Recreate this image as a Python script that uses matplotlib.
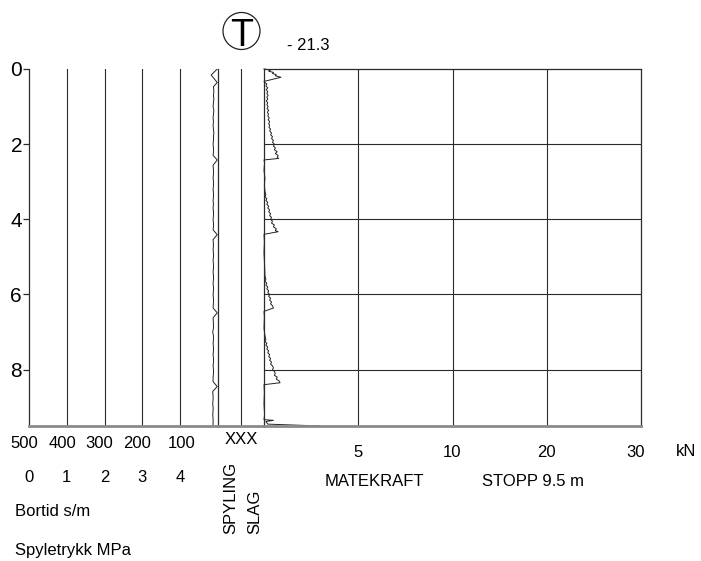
import numpy as np
import matplotlib
matplotlib.use('Agg')
import matplotlib.pyplot as plt
from matplotlib.patches import Ellipse
from matplotlib.transforms import ScaledTranslation

# ---------------- data ----------------
depth_ticks = [0, 2, 4, 6, 8]
depth_max = 9.5
bortid_ticks = [500, 400, 300, 200, 100]
spyletrykk_ticks = [0, 1, 2, 3, 4]
kn_ticks = [5, 10, 20, 30]
kn_breaks = [0, 5, 10, 20, 30]

# Bortid (s/m) vs depth (m)
bortid = [
    (0.00, 2), (0.16, 18), (0.36, 2), (0.47, 12), (0.60, 11), (0.70, 12), (0.80, 11),
    (0.90, 12), (1.00, 13), (1.10, 11), (1.20, 12), (1.30, 13), (1.40, 12), (1.50, 13),
    (1.60, 12), (1.70, 11), (1.80, 12), (1.90, 12), (2.00, 13), (2.10, 12), (2.20, 12),
    (2.30, 13), (2.42, 2), (2.56, 13), (2.70, 12), (2.80, 12), (2.90, 13), (3.00, 12),
    (3.10, 12), (3.20, 13), (3.30, 12), (3.40, 12), (3.50, 13), (3.60, 12), (3.70, 13),
    (3.80, 12), (3.90, 12), (4.00, 13), (4.10, 12), (4.20, 12), (4.28, 13), (4.41, 2),
    (4.54, 13), (4.70, 12), (4.80, 13), (4.90, 12), (5.00, 12), (5.10, 13), (5.20, 12),
    (5.30, 12), (5.40, 13), (5.50, 12), (5.60, 12), (5.70, 13), (5.80, 12), (5.90, 12),
    (6.00, 13), (6.10, 12), (6.20, 12), (6.36, 13), (6.49, 2), (6.62, 13), (6.80, 12),
    (6.90, 12), (7.00, 14), (7.10, 12), (7.20, 12), (7.30, 13), (7.40, 12), (7.50, 12),
    (7.60, 13), (7.70, 12), (7.80, 12), (7.90, 13), (8.00, 12), (8.10, 12), (8.20, 13),
    (8.32, 13), (8.45, 2), (8.58, 14), (8.70, 13), (8.80, 13), (8.90, 14), (9.00, 13),
    (9.10, 13), (9.20, 14), (9.30, 13), (9.40, 13), (9.50, 13),
]

# Matekraft (kN) vs depth (m)
matekraft = [
    (0.00, 0.00), (0.03, 0.35), (0.06, 0.25), (0.09, 0.50), (0.12, 0.45), (0.15, 0.65),
    (0.18, 0.60), (0.22, 0.90), (0.33, 0.00),
    (0.36, 0.05), (0.40, 0.15), (0.45, 0.10), (0.50, 0.20), (0.55, 0.12), (0.60, 0.20),
    (0.65, 0.15), (0.70, 0.22), (0.75, 0.15), (0.80, 0.20), (0.85, 0.12), (0.90, 0.20),
    (0.95, 0.15), (1.00, 0.22), (1.05, 0.16), (1.10, 0.25), (1.15, 0.18), (1.20, 0.24),
    (1.25, 0.20), (1.30, 0.28), (1.35, 0.22), (1.40, 0.30), (1.45, 0.25), (1.50, 0.30),
    (1.55, 0.26), (1.60, 0.35), (1.65, 0.30), (1.70, 0.40), (1.75, 0.35), (1.80, 0.45),
    (1.85, 0.40), (1.90, 0.50), (1.95, 0.45), (2.00, 0.55), (2.05, 0.50), (2.10, 0.60),
    (2.15, 0.55), (2.20, 0.70), (2.25, 0.60), (2.30, 0.75), (2.35, 0.70), (2.38, 0.78),
    (2.42, 0.00),
    (2.50, 0.03), (2.70, 0.00), (2.90, 0.05), (3.10, 0.02), (3.25, 0.05),
    (3.35, 0.10), (3.40, 0.05), (3.45, 0.15), (3.50, 0.10), (3.55, 0.20), (3.60, 0.15),
    (3.65, 0.25), (3.70, 0.20), (3.75, 0.30), (3.80, 0.25), (3.85, 0.35), (3.90, 0.30),
    (3.95, 0.40), (4.00, 0.35), (4.05, 0.45), (4.10, 0.40), (4.15, 0.55), (4.20, 0.50),
    (4.25, 0.65), (4.30, 0.60), (4.33, 0.75), (4.40, 0.00),
    (4.60, 0.02), (4.90, 0.00), (5.20, 0.03), (5.50, 0.05),
    (5.60, 0.10), (5.65, 0.05), (5.70, 0.15), (5.75, 0.10), (5.80, 0.20), (5.85, 0.15),
    (5.90, 0.25), (5.95, 0.20), (6.00, 0.30), (6.05, 0.25), (6.10, 0.35), (6.15, 0.30),
    (6.20, 0.40), (6.25, 0.35), (6.30, 0.45), (6.36, 0.50), (6.45, 0.00),
    (6.60, 0.02), (6.90, 0.00), (7.10, 0.05),
    (7.20, 0.10), (7.25, 0.05), (7.30, 0.15), (7.35, 0.10), (7.40, 0.20), (7.45, 0.15),
    (7.50, 0.25), (7.55, 0.20), (7.60, 0.30), (7.65, 0.25), (7.70, 0.35), (7.75, 0.30),
    (7.80, 0.40), (7.85, 0.35), (7.90, 0.45), (7.95, 0.50), (8.00, 0.45), (8.05, 0.55),
    (8.10, 0.60), (8.15, 0.55), (8.20, 0.70), (8.25, 0.65), (8.30, 0.80), (8.35, 0.85),
    (8.40, 0.00),
    (8.60, 0.02), (8.90, 0.00), (9.20, 0.03), (9.33, 0.00), (9.35, 0.50), (9.38, 0.10),
    (9.45, 0.20), (9.50, 3.00),
]

bortid_depth, bortid_val = zip(*bortid)
mk_depth, mk_val = zip(*matekraft)

# ---------------- layout ----------------
W, H = 701, 561
fig = plt.figure(figsize=(W / 100, H / 100), dpi=100)
plt.rcParams['font.family'] = ['Liberation Sans Narrow', 'Liberation Sans', 'DejaVu Sans']

def fx(px):
    return px / W

def fy(py):
    return 1 - py / H

def shift(label, dx_px):
    label.set_transform(label.get_transform() +
                        ScaledTranslation(dx_px / 100, 0, fig.dpi_scale_trans))

top, bot = 69, 426
x0, xb, xm, xr = 29, 218, 264, 641
hh = (bot - top) / H

line_c = '#2a2a2a'
base_c = '#8a8a8a'
FS = 12

ax_l = fig.add_axes([fx(x0), fy(bot), (xb - x0) / W, hh])
ax_m = fig.add_axes([fx(xb), fy(bot), (xm - xb) / W, hh])
ax_r = fig.add_axes([fx(xm), fy(bot), (xr - xm) / W, hh])

for ax in (ax_l, ax_m, ax_r):
    ax.set_ylim(depth_max, 0)
    ax.set_facecolor('none')
    for s in ax.spines.values():
        s.set_color(line_c)
        s.set_linewidth(0.9)
    ax.spines['bottom'].set_color(base_c)
    ax.spines['bottom'].set_linewidth(2.0)

# left panel (bortid)
ax_l.set_xlim(500, 0)
ax_l.spines['top'].set_visible(False)
ax_l.set_yticks(depth_ticks)
ax_l.set_yticklabels([str(d) for d in depth_ticks], fontsize=15,
                     family=['Liberation Sans', 'DejaVu Sans'])
ax_l.tick_params(axis='y', length=4, width=0.9, color=line_c, pad=1)
ax_l.tick_params(axis='x', length=0, pad=7)
ax_l.set_xticks(bortid_ticks)
ax_l.set_xticklabels([str(t) for t in bortid_ticks], fontsize=FS)
for lab, dx in zip(ax_l.get_xticklabels(), [-5, -4, -5, -5, 1]):
    shift(lab, dx)
for t in bortid_ticks[1:]:
    ax_l.axvline(t, color=line_c, lw=0.8)
ax_l.plot(bortid_val, bortid_depth, color='#222222', lw=0.7)

# spyletrykk secondary labels
ax_s = ax_l.twiny()
ax_s.set_xlim(0, 5)
ax_s.set_ylim(depth_max, 0)
for s in ax_s.spines.values():
    s.set_visible(False)
ax_s.xaxis.set_ticks_position('bottom')
ax_s.set_xticks(spyletrykk_ticks)
ax_s.set_xticklabels([str(t) for t in spyletrykk_ticks], fontsize=FS)
ax_s.tick_params(axis='x', length=0, pad=32)

# middle panel (spyling / slag)
ax_m.set_xlim(0, 1)
for side in ('top', 'left', 'right'):
    ax_m.spines[side].set_visible(False)
ax_m.set_yticks([])
ax_m.set_xticks([0.5])
ax_m.set_xticklabels(['XXX'], fontsize=FS)
ax_m.tick_params(axis='x', length=0, pad=4)
ax_m.axvline(0.5, color=line_c, lw=0.8)

# right panel (matekraft)
fwd = lambda x: np.interp(x, kn_breaks, np.arange(len(kn_breaks)))
inv = lambda y: np.interp(y, np.arange(len(kn_breaks)), kn_breaks)
ax_r.set_xscale('function', functions=(fwd, inv))
ax_r.set_xlim(0, 30)
ax_r.set_yticks([])
ax_r.tick_params(axis='x', length=0, pad=14)
ax_r.set_xticks(kn_ticks)
ax_r.set_xticklabels([str(t) for t in kn_ticks], fontsize=FS)
ax_r.xaxis.set_minor_locator(matplotlib.ticker.NullLocator())
for lab, dx in zip(ax_r.get_xticklabels(), [0, 0, 0, -5]):
    shift(lab, dx)
for t in kn_ticks[:-1]:
    ax_r.axvline(t, color=line_c, lw=0.8)
for d in depth_ticks[1:]:
    ax_r.axhline(d, color=line_c, lw=0.8)
ax_r.plot(mk_val, mk_depth, color='#222222', lw=0.7, clip_on=False)

# ---------------- texts ----------------
fig.text(fx(686), fy(451), 'kN', fontsize=FS, ha='center', va='center')
fig.text(fx(374), fy(481), 'MATEKRAFT', fontsize=FS, ha='center', va='center')
fig.text(fx(533), fy(481), 'STOPP 9.5 m', fontsize=FS, ha='center', va='center')
fig.text(fx(15), fy(512), 'Bortid s/m', fontsize=FS, ha='left', va='center')
fig.text(fx(15), fy(550), 'Spyletrykk MPa', fontsize=FS, ha='left', va='center')
fig.text(fx(231), fy(534), 'SPYLING', fontsize=FS, rotation=90, ha='center', va='bottom')
fig.text(fx(255), fy(534), 'SLAG', fontsize=FS, rotation=90, ha='center', va='bottom')
fig.text(fx(287), fy(45), '- 21.3', fontsize=FS, ha='left', va='center')

fig.add_artist(Ellipse((fx(241.5), fy(31)), 37 / W, 37 / H, transform=fig.transFigure,
                       fill=False, ec='#222222', lw=0.9))
fig.text(fx(241.5), fy(45.5), 'T', fontsize=27, ha='center', va='baseline')

fig.savefig('out.png', dpi=100)
